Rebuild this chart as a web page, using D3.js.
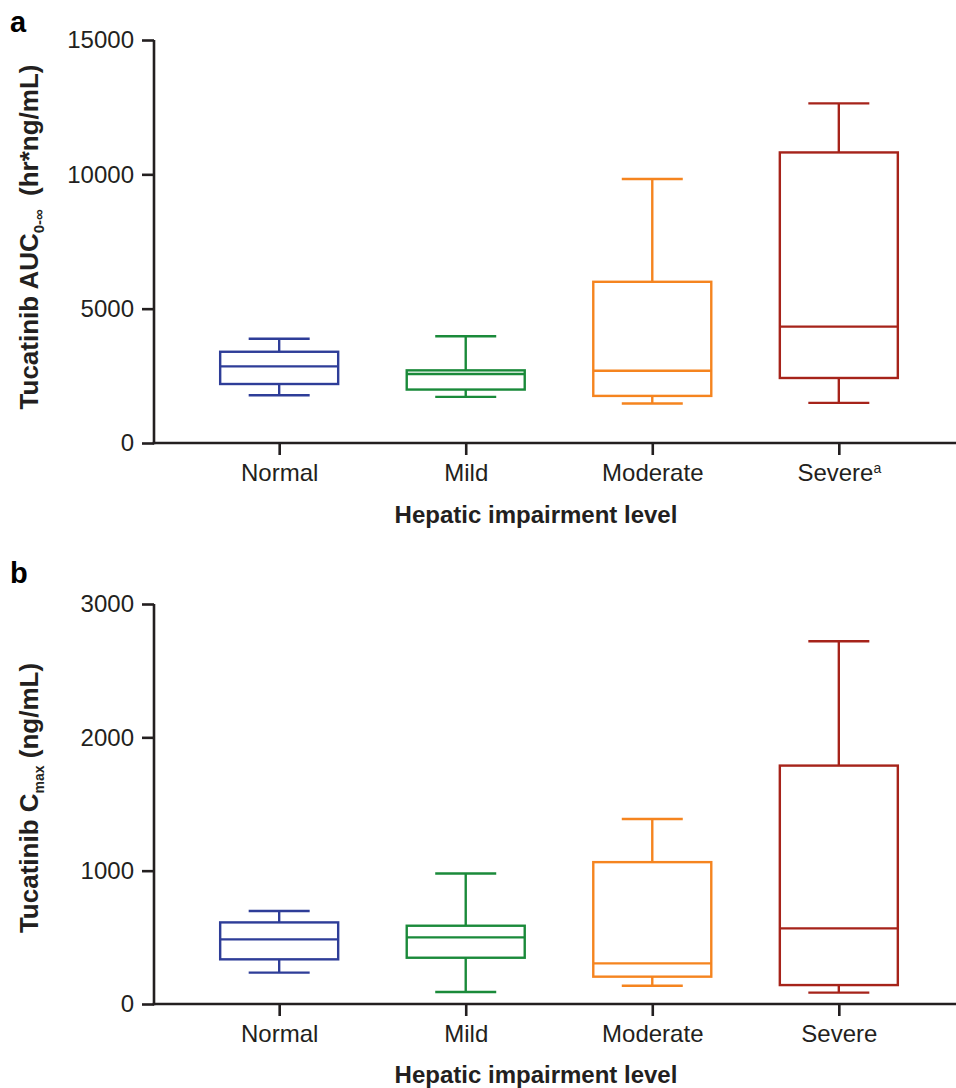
<!DOCTYPE html>
<html>
<head>
<meta charset="utf-8">
<script src="https://cdn.jsdelivr.net/npm/d3@7"></script>
<style>
  html, body { margin: 0; padding: 0; background: #fff; }
  svg { display: block; font-family: "Liberation Sans", Arial, sans-serif; }
</style>
</head>
<body>
<svg id="chart" width="956" height="1088"></svg>
<script>
// ---- Data ----
const categories = ["Normal", "Mild", "Moderate", "Severe"];
const colors = ["#2e3d98", "#1a8a3a", "#f5841f", "#a6231a"];

// Panel a: Tucatinib AUC0-inf (hr*ng/mL)
const aucMin    = [1778, 1715, 1469, 1494];
const aucQ1     = [2196, 1989, 1753, 2420];
const aucMedian = [2852, 2567, 2691, 4333];
const aucQ3     = [3396, 2704, 6000, 10815];
const aucMax    = [3878, 3974, 9826, 12641];
const aucTicks  = [0, 5000, 10000, 15000];

// Panel b: Tucatinib Cmax (ng/mL)
const cmaxMin    = [235, 90, 137, 85];
const cmaxQ1     = [335, 347, 205, 142];
const cmaxMedian = [485, 500, 305, 567];
const cmaxQ3     = [612, 587, 1064, 1788];
const cmaxMax    = [697, 979, 1388, 2721];
const cmaxTicks  = [0, 1000, 2000, 3000];

const xTitle = "Hepatic impairment level";

// ---- Drawing ----
const svg = d3.select("#chart");
const axisColor = "#231f20";

function drawPanel(opt) {
  const g = svg.append("g");
  const x = d3.scalePoint().domain(categories).range([154, 964]).padding(0.671);
  const y = d3.scaleLinear().domain([0, opt.ticks[opt.ticks.length - 1]]).range([opt.y0, opt.y1]);

  const data = categories.map((c, i) => ({
    cat: c, color: colors[i],
    min: opt.min[i], q1: opt.q1[i], med: opt.med[i], q3: opt.q3[i], max: opt.max[i]
  }));

  const boxW = 118, capW = 61, sw = 2.4;
  const bx = g.selectAll("g.box").data(data).join("g").attr("class", "box")
    .attr("stroke", d => d.color).attr("stroke-width", sw).attr("fill", "none");

  // whiskers
  bx.append("line").attr("x1", d => x(d.cat)).attr("x2", d => x(d.cat))
    .attr("y1", d => y(d.q3)).attr("y2", d => y(d.max));
  bx.append("line").attr("x1", d => x(d.cat)).attr("x2", d => x(d.cat))
    .attr("y1", d => y(d.q1)).attr("y2", d => y(d.min));
  // caps
  bx.append("line").attr("x1", d => x(d.cat) - capW / 2).attr("x2", d => x(d.cat) + capW / 2)
    .attr("y1", d => y(d.max)).attr("y2", d => y(d.max));
  bx.append("line").attr("x1", d => x(d.cat) - capW / 2).attr("x2", d => x(d.cat) + capW / 2)
    .attr("y1", d => y(d.min)).attr("y2", d => y(d.min));
  // box
  bx.append("rect").attr("x", d => x(d.cat) - boxW / 2).attr("width", boxW)
    .attr("y", d => y(d.q3)).attr("height", d => y(d.q1) - y(d.q3));
  // median
  bx.append("line").attr("x1", d => x(d.cat) - boxW / 2).attr("x2", d => x(d.cat) + boxW / 2)
    .attr("y1", d => y(d.med)).attr("y2", d => y(d.med));

  // y axis
  const ya = g.append("g").attr("transform", "translate(154,0)")
    .call(d3.axisLeft(y).tickValues(opt.ticks).tickSize(12).tickSizeOuter(0).tickPadding(8)
      .tickFormat(d3.format("d")));
  // x axis
  const xa = g.append("g").attr("transform", `translate(0,${opt.y0})`)
    .call(d3.axisBottom(x).tickSize(12).tickSizeOuter(0).tickPadding(9));

  [ya, xa].forEach(a => {
    a.selectAll("path, line").attr("stroke", axisColor).attr("stroke-width", 2.6);
    a.selectAll("text").attr("fill", "#231f20").attr("font-size", 24)
      .attr("font-family", "'Liberation Sans', Arial, sans-serif");
  });
  ya.select("path.domain").attr("d", `M0,${opt.y0 + 1.3}V${opt.y1}`);
  xa.select("path.domain").attr("d", `M${154 - 1.3},0H956`);

  if (opt.supIndex != null) {
    xa.selectAll(".tick text").filter(d => d === categories[opt.supIndex])
      .each(function () {
        const t = d3.select(this);
        t.text(null);
        t.append("tspan").text(categories[opt.supIndex]);
        t.append("tspan").attr("font-size", 14).attr("dy", "-0.55em").text("a");
      });
  }

  // x title
  g.append("text").attr("x", 536).attr("y", opt.y0 + opt.titleOff)
    .attr("text-anchor", "middle").attr("font-weight", "bold").attr("font-size", 24)
    .attr("fill", "#231f20").text(xTitle);

  // y title with subscript
  const yt = g.append("text")
    .attr("transform", `translate(38,${opt.titleY}) rotate(-90)`)
    .attr("text-anchor", "middle").attr("font-weight", "bold").attr("font-size", 26)
    .attr("fill", "#231f20");
  yt.append("tspan").text(opt.yPre);
  yt.append("tspan").attr("font-size", opt.subSize).attr("dy", 6).text(opt.ySub);
  yt.append("tspan").attr("dy", -6).attr("dx", opt.gap).text(opt.yPost);

  // panel letter
  g.append("text").attr("x", 10).attr("y", opt.letterY).attr("font-weight", "bold")
    .attr("font-size", 29).attr("fill", "#000").text(opt.letter);
}

drawPanel({
  min: aucMin, q1: aucQ1, med: aucMedian, q3: aucQ3, max: aucMax, ticks: aucTicks,
  y0: 443, y1: 40, titleY: 237, titleOff: 80, letter: "a", letterY: 32, supIndex: 3,
  yPre: "Tucatinib AUC", ySub: "0-\u221E", yPost: " (hr*ng/mL)", subSize: 15, gap: 6
});
drawPanel({
  min: cmaxMin, q1: cmaxQ1, med: cmaxMedian, q3: cmaxQ3, max: cmaxMax, ticks: cmaxTicks,
  y0: 1004, y1: 604, titleY: 798, titleOff: 79, letter: "b", letterY: 583, supIndex: null,
  yPre: "Tucatinib C", ySub: "max", yPost: " (ng/mL)", subSize: 14, gap: 0
});
</script>
</body>
</html>
